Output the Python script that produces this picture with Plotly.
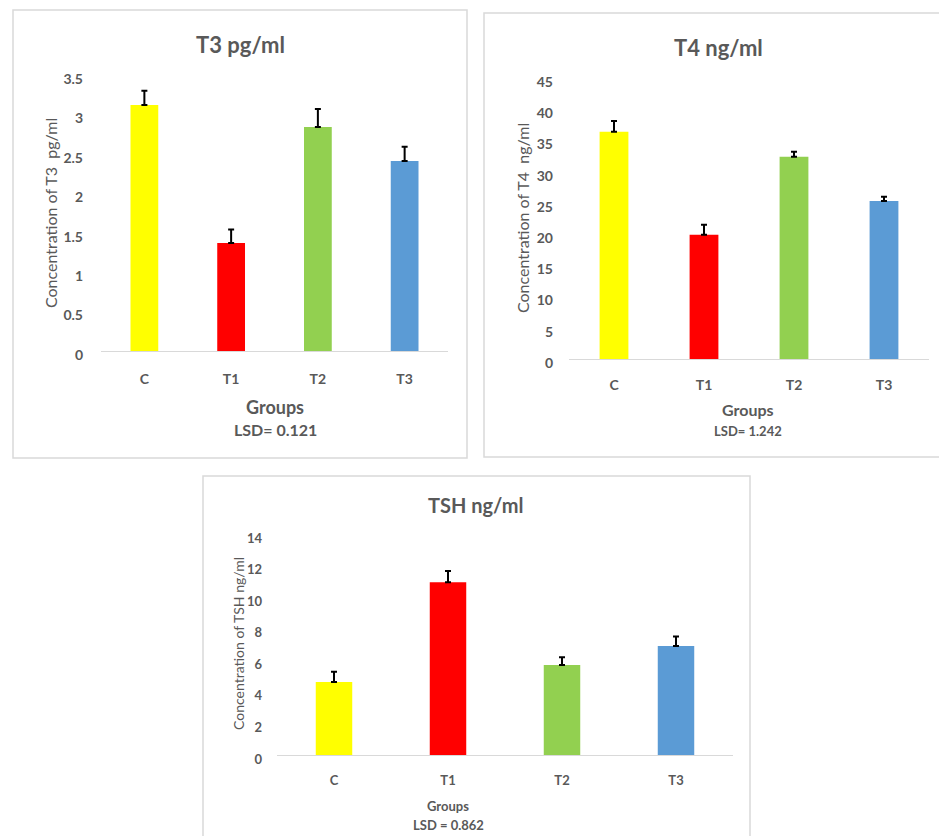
import plotly.graph_objects as go

W, H = 939, 836

groups = ["C", "T1", "T2", "T3"]
colors = ["#FFFF00", "#FF0000", "#92D050", "#5B9BD5"]

t3_mean = [3.12, 1.37, 2.84, 2.41]
t3_err = [0.18, 0.17, 0.23, 0.18]

t4_mean = [36.4, 19.9, 32.4, 25.3]
t4_err = [1.7, 1.6, 0.8, 0.7]

tsh_mean = [4.62, 10.95, 5.7, 6.9]
tsh_err = [0.65, 0.7, 0.5, 0.6]

panels = [
    dict(title="T3 pg/ml", ytitle="Concentration of T3  pg/ml", lsd="LSD= 0.121",
         mean=t3_mean, err=t3_err, yrange=[0, 3.5], dtick=0.5,
         px=(101, 448), py=(75, 351), box=(13, 10, 467, 458),
         title_xy=(240, 45), ytitle_xy=(50, 213), groups_y=407, lsd_y=430, gx=275,
         fs_title=22, fs_tick=14, fs_ytitle=16, fs_groups=18, fs_lsd=16, standoff=17, xstand=15),
    dict(title="T4 ng/ml", ytitle="Concentration of T4  ng/ml", lsd="LSD= 1.242",
         mean=t4_mean, err=t4_err, yrange=[0, 45], dtick=5,
         px=(569, 929), py=(78, 359), box=(484, 13, 948, 457),
         title_xy=(718, 47), ytitle_xy=(523, 218), groups_y=410, lsd_y=431, gx=748,
         fs_title=22, fs_tick=14, fs_ytitle=16, fs_groups=16, fs_lsd=13, standoff=15, xstand=13),
    dict(title="TSH ng/ml", ytitle="Concentration of TSH ng/ml", lsd="LSD = 0.862",
         mean=tsh_mean, err=tsh_err, yrange=[0, 14], dtick=2,
         px=(277, 733), py=(534, 755), box=(203, 476, 750, 850),
         title_xy=(476, 505), ytitle_xy=(238, 644), groups_y=806, lsd_y=825, gx=448,
         fs_title=20, fs_tick=13, fs_ytitle=14, fs_groups=13, fs_lsd=13, standoff=14, xstand=13),
]

FONT = "Lato"
GRAY = "#595959"

fig = go.Figure()
shapes = []
annotations = []
layout = {}

for i, p in enumerate(panels):
    n = "" if i == 0 else str(i + 1)
    fig.add_trace(go.Bar(
        x=groups, y=p["mean"], marker=dict(color=colors, line=dict(width=0)),
        width=0.32,
        error_y=dict(type="data", array=p["err"], arrayminus=[0] * len(groups),
                     symmetric=False, color="#000000", thickness=2, width=3),
        xaxis="x" + n, yaxis="y" + n, showlegend=False,
    ))
    x0, x1 = p["px"]
    y0, y1 = p["py"]
    layout["xaxis" + n] = dict(
        domain=[x0 / W, x1 / W], anchor="y" + n, showline=True, linecolor="#D9D9D9",
        linewidth=1, showgrid=False, ticks="", ticklabelstandoff=p["xstand"],
        tickfont=dict(family=FONT, size=p["fs_tick"], color=GRAY, weight="bold"),
        fixedrange=True, automargin=False,
    )
    layout["yaxis" + n] = dict(
        domain=[1 - y1 / H, 1 - y0 / H], anchor="x" + n, range=p["yrange"],
        dtick=p["dtick"], showgrid=False, zeroline=False, showline=False, ticks="",
        ticklabelstandoff=p["standoff"], ticklabelshift=4,
        tickfont=dict(family=FONT, size=p["fs_tick"], color=GRAY, weight="bold"),
        fixedrange=True, automargin=False,
    )
    bx0, by0, bx1, by1 = p["box"]
    shapes.append(dict(type="rect", xref="paper", yref="paper",
                       x0=bx0 / W, x1=bx1 / W, y0=1 - by1 / H, y1=1 - by0 / H,
                       line=dict(color="#D9D9D9", width=1.5), layer="below"))
    tx, ty = p["title_xy"]
    annotations.append(dict(text=p["title"], x=tx / W, y=1 - ty / H, xref="paper", yref="paper",
                            showarrow=False, xanchor="center", yanchor="middle",
                            font=dict(family=FONT, size=p["fs_title"], color=GRAY, weight="bold")))
    ax, ay = p["ytitle_xy"]
    annotations.append(dict(text=p["ytitle"], x=ax / W, y=1 - ay / H, xref="paper", yref="paper",
                            showarrow=False, xanchor="center", yanchor="middle", textangle=-90,
                            font=dict(family=FONT, size=p["fs_ytitle"], color=GRAY, weight="normal")))
    annotations.append(dict(text="Groups", x=p["gx"] / W, y=1 - p["groups_y"] / H, xref="paper", yref="paper",
                            showarrow=False, xanchor="center", yanchor="middle",
                            font=dict(family=FONT, size=p["fs_groups"], color=GRAY, weight="bold")))
    annotations.append(dict(text=p["lsd"], x=p["gx"] / W, y=1 - p["lsd_y"] / H, xref="paper", yref="paper",
                            showarrow=False, xanchor="center", yanchor="middle",
                            font=dict(family=FONT, size=p["fs_lsd"], color=GRAY, weight="bold")))

fig.update_layout(
    width=W, height=H, margin=dict(l=0, r=0, t=0, b=0, pad=0, autoexpand=False),
    paper_bgcolor="white", plot_bgcolor="white",
    shapes=shapes, annotations=annotations, showlegend=False,
    title=None,
    **layout,
)

fig.write_html(
    "out.html",
    config={"displayModeBar": False},
    post_script=(
        "document.documentElement.style.margin='0';"
        "document.documentElement.style.overflow='hidden';"
        "document.body.style.margin='0';"
        "document.body.style.overflow='hidden';"
        "window.scrollTo(0,0);"
    ),
)
